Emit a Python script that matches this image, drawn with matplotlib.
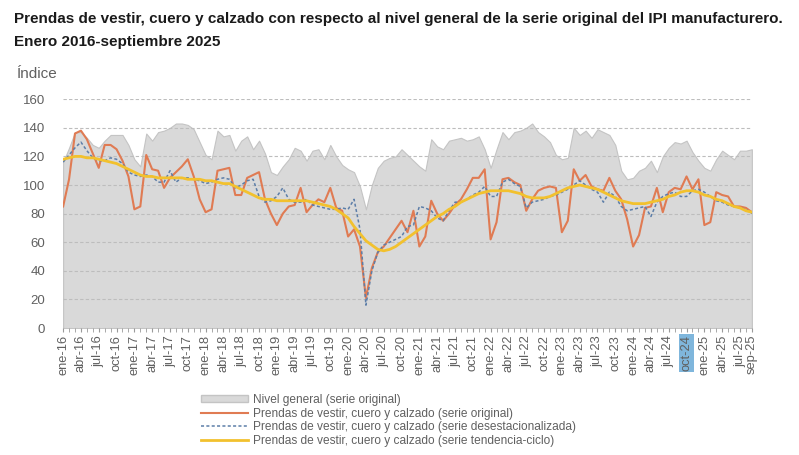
import numpy as np
import matplotlib
matplotlib.use("Agg")
import matplotlib.pyplot as plt
from matplotlib.patches import Patch
from matplotlib.lines import Line2D

plt.rcParams['font.family'] = ['Liberation Sans', 'DejaVu Sans']

# Monthly data, ene-16 .. sep-25
meses = ['ene', 'feb', 'mar', 'abr', 'may', 'jun', 'jul', 'ago', 'sep', 'oct', 'nov', 'dic']
labels = [f"{m}-{y % 100:02d}" for y in range(2016, 2026) for m in meses][:117]

nivel_general = [
    116, 126, 137, 137, 133, 128, 126, 131, 135, 135, 135, 128,
    118, 113, 136, 131, 137, 138, 140, 143, 143, 142, 139, 130,
    121, 118, 138, 134, 135, 124, 131, 134, 125, 131, 122, 109,
    107, 113, 118, 126, 124, 117, 124, 125, 118, 128, 120, 114,
    111, 109, 99, 83, 100, 112, 117, 119, 120, 125, 121, 117,
    113, 110, 132, 127, 125, 131, 132, 133, 131, 132, 134, 125,
    112, 125, 137, 132, 137, 138, 140, 143, 137, 134, 130, 121,
    118, 119, 140, 135, 138, 133, 139, 137, 135, 128, 110, 104,
    105, 110, 112, 117, 109, 120, 126, 130, 129, 131, 123, 117,
    112, 110, 118, 124, 121, 118, 124, 124, 125]

prendas_original = [
    85, 104, 136, 138, 132, 122, 112, 128, 128, 125, 117, 106,
    83, 85, 121, 111, 110, 98, 105, 109, 113, 118, 106, 90,
    81, 83, 110, 111, 112, 93, 93, 105, 107, 109, 90, 80,
    72, 80, 85, 86, 98, 81, 86, 90, 88, 98, 84, 82,
    64, 69, 57, 21, 42, 53, 57, 63, 69, 75, 67, 82,
    57, 64, 89, 80, 75, 80, 86, 90, 97, 105, 105, 111,
    62, 74, 104, 105, 102, 100, 82, 90, 96, 98, 99, 98,
    67, 75, 111, 103, 107, 99, 97, 96, 105, 96, 90, 76,
    57, 65, 84, 85, 98, 81, 95, 98, 97, 106, 97, 104,
    72, 74, 95, 93, 92, 85, 85, 84, 81]

prendas_desest = [
    116, 121, 126, 130, 124, 119, 117, 117, 119, 118, 115, 109,
    107, 106, 107, 106, 102, 102, 110, 102, 105, 105, 104, 103,
    101, 102, 104, 105, 104, 98, 100, 103, 104, 92, 88, 89,
    92, 98, 90, 88, 88, 90, 86, 85, 84, 83, 83, 84,
    83, 90, 69, 16, 40, 53, 58, 60, 62, 64, 71, 72,
    85, 84, 82, 77, 75, 82, 88, 88, 90, 93, 95, 99,
    92, 92, 102, 104, 101, 99, 84, 88, 89, 90, 92, 93,
    95, 97, 100, 103, 100, 97, 95, 88, 95, 92, 85, 82,
    83, 84, 85, 78, 88, 92, 94, 95, 92, 92, 96, 97,
    95, 92, 89, 88, 86, 85, 84, 83, 80]

prendas_tendencia = [
    118, 119, 120, 120, 119, 119, 118, 117, 116, 115, 113, 111,
    109, 107, 106, 106, 105, 105, 105, 105, 105, 104, 104, 104,
    103, 103, 102, 101, 101, 99, 97, 95, 93, 91, 90, 90,
    89, 89, 89, 89, 89, 89, 88, 87, 86, 85, 83, 80,
    77, 71, 66, 61, 58, 55, 54, 55, 57, 60, 63, 66,
    69, 72, 75, 78, 80, 83, 85, 88, 90, 92, 94, 95,
    96, 96, 96, 96, 95, 94, 92, 91, 91, 91, 92, 94,
    96, 98, 99, 100, 99, 98, 97, 95, 93, 91, 89, 88,
    87, 87, 87, 88, 89, 90, 92, 93, 95, 96, 96, 95,
    93, 92, 90, 89, 87, 85, 84, 82, 81]

x = np.arange(len(labels))
gris_txt = '#606060'

fig = plt.figure(figsize=(7.99, 4.55), dpi=100)
ax = fig.add_axes([0.079, 0.279, 0.862, 0.503])

ax.fill_between(x, 0, nivel_general, color='#d9d9d9', edgecolor='#c4c4c4', linewidth=0.8, zorder=1)
ax.plot(x, prendas_original, color='#e07b53', linewidth=1.5, zorder=3)
ax.plot(x, prendas_desest, color='#5d7ea8', linewidth=1.1, linestyle=(0, (2, 1.5)), zorder=4)
ax.plot(x, prendas_tendencia, color='#f2c12e', linewidth=2.0, zorder=5)

ax.set_xlim(0, len(x) - 1)
ax.set_ylim(0, 160)
ax.set_yticks(np.arange(0, 161, 20))
ax.yaxis.grid(True, color='#bdbdbd', linestyle=(0, (3, 2)), linewidth=0.8)
ax.set_axisbelow(False)
for s in ax.spines.values():
    s.set_visible(False)
ax.tick_params(axis='y', length=0, labelsize=9.5, labelcolor=gris_txt, pad=13)

pos = list(x[::3]) + [x[-1]]
ax.set_xticks(pos)
ax.set_xticklabels([labels[i] for i in pos], rotation=90, fontsize=9.3, color=gris_txt)
ax.set_xticks(x, minor=True)
ax.tick_params(axis='x', which='both', length=3, color='#9a9a9a', pad=2)
for t in ax.get_xticklabels():
    if t.get_text() == 'oct-24':
        t.set_bbox(dict(facecolor='#7fb6dc', edgecolor='none', pad=1))

fig.text(0.018, 0.958, 'Prendas de vestir, cuero y calzado con respecto al nivel general de la serie original del IPI manufacturero.',
         fontsize=11, fontweight='bold', color='#1a1a1a', va='center')
fig.text(0.018, 0.908, 'Enero 2016-septiembre 2025',
         fontsize=11, fontweight='bold', color='#1a1a1a', va='center')
fig.text(0.021, 0.838, 'Índice', fontsize=11, color=gris_txt, va='center')

handles = [
    Patch(facecolor='#d9d9d9', edgecolor='#c4c4c4'),
    Line2D([], [], color='#e07b53', linewidth=1.5),
    Line2D([], [], color='#5d7ea8', linewidth=1.1, linestyle=(0, (2, 1.5))),
    Line2D([], [], color='#f2c12e', linewidth=2.0),
]
names = [
    'Nivel general (serie original)',
    'Prendas de vestir, cuero y calzado (serie original)',
    'Prendas de vestir, cuero y calzado (serie desestacionalizada)',
    'Prendas de vestir, cuero y calzado (serie tendencia-ciclo)',
]
leg = fig.legend(handles, names, loc='upper left', bbox_to_anchor=(0.245, 0.145), frameon=False,
                 fontsize=8.6, handlelength=4.0, handleheight=0.6, labelspacing=0.15,
                 handletextpad=0.4, borderaxespad=0)
for t in leg.get_texts():
    t.set_color(gris_txt)

fig.savefig('out.png', dpi=100)
